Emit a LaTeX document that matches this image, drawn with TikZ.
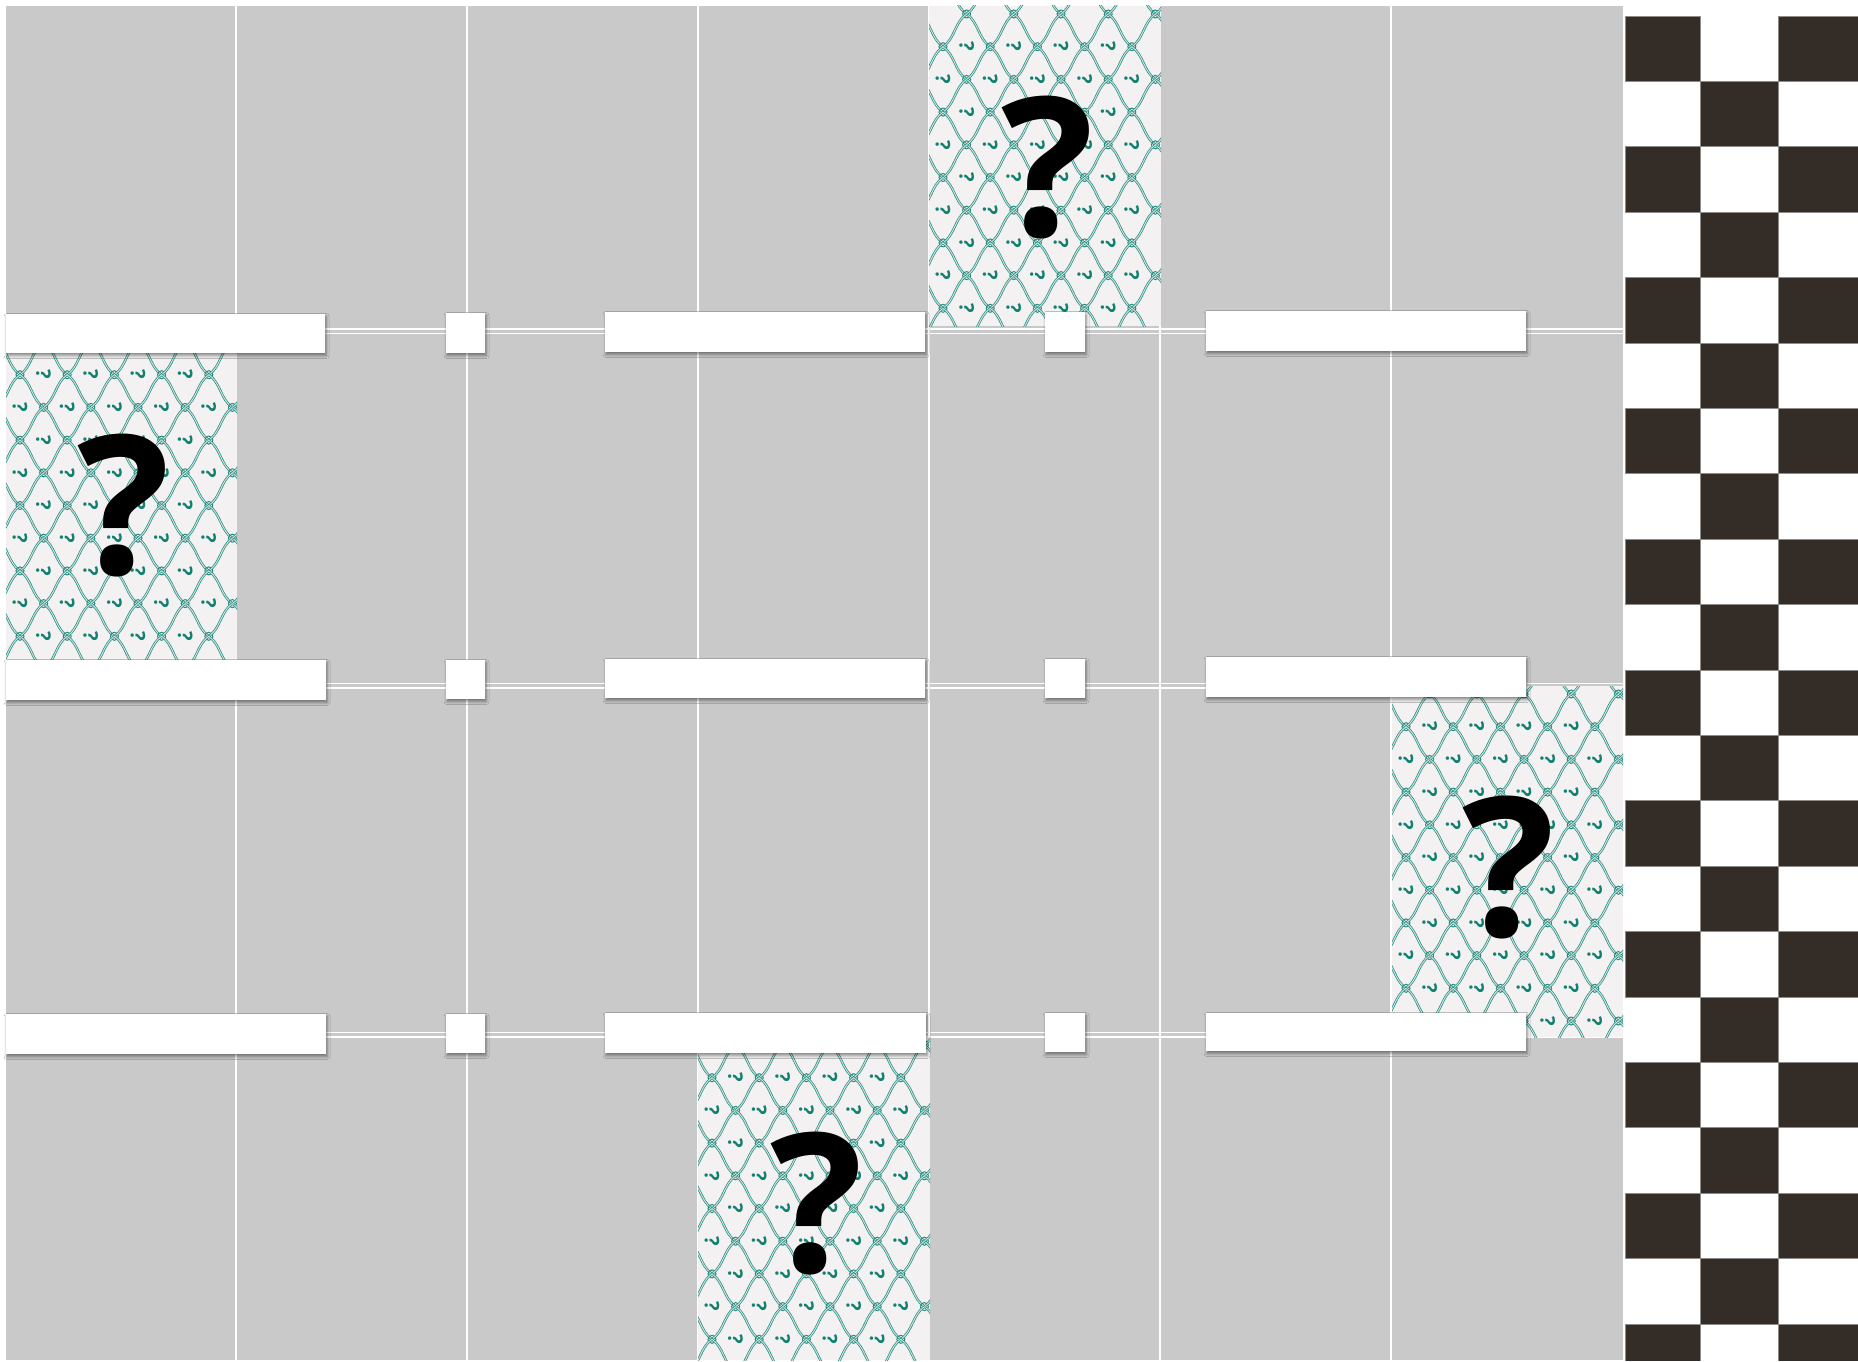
\documentclass[tikz,border=0pt]{standalone}
\usepackage{fontspec}
\newfontfamily\qfont{Open Sans}
\usetikzlibrary{shadows.blur}

\definecolor{cellgray}{RGB}{201,201,201}
\definecolor{checkdark}{RGB}{52,44,38}
\definecolor{trellis}{RGB}{40,140,126}
\definecolor{qteal}{RGB}{18,128,110}
\definecolor{tilebg}{RGB}{243,241,241}

% mystery tile: name, corners, position of the big question mark
\newcommand\mysterytile[7]{%
  \begin{scope}
    \clip (#2,#3) rectangle (#4,#5);
    \fill[tilebg] (#2,#3) rectangle (#4,#5);
    \foreach \i in {-1,...,5} \foreach \j in {-1,...,5} {
      \foreach \dx/\dy [count=\s] in {0/0,23.6/32.7} {
        \pgfmathsetmacro\cx{#2+14+47.2*\i+\dx}
        \pgfmathsetmacro\cy{#3+8+65.4*\j+\dy}
        \draw[trel] (\cx-23.6,\cy) .. controls (\cx-11.7,\cy-7.9) and (\cx-11.9,\cy-24.6) .. (\cx,\cy-32.7)
                    .. controls (\cx+11.9,\cy-24.6) and (\cx+11.7,\cy-7.9) .. (\cx+23.6,\cy);
        \draw[junc] (\cx+23.6,\cy) circle[radius=4];
        \pgfmathtruncatemacro\inside{and(and(\cx>#2+9,\cx<#4-9),and(\cy>#3+9,\cy<#5-9))}
        \ifnum\inside=1
          \node[smallq] (#1-\i-\j-\s) at (\cx,\cy) {?};
        \fi
      }
    }
  \end{scope}
  \node[bigq] (#1) at (#6,#7) {?};
}

\begin{document}
\begin{tikzpicture}[
  x=1pt, y=-1pt,
  gridline/.style={draw=white, line width=1.6pt},
  bar/.style={fill=white, blur shadow={shadow xshift=1pt, shadow yshift=-2.5pt,
              shadow blur radius=3pt, shadow opacity=45}},
  trel/.style={draw=trellis, line width=0.7pt, double=trellis!25, double distance=1pt},
  junc/.style={draw=trellis, line width=1pt},
  smallq/.style={font=\qfont\bfseries\fontsize{20}{20}\selectfont, text=qteal,
                 inner sep=0pt, rotate=-90},
  bigq/.style={font=\qfont\bfseries\fontsize{194}{200}\selectfont, inner sep=0pt},
  dark/.style={fill=checkdark, draw=checkdark!55, line width=0.8pt}
]
\useasboundingbox (0,0) rectangle (1858,1362);
\fill[white] (0,0) rectangle (1858,1362);

\fill[cellgray] (6,6) rectangle (1623,1360);
\foreach \x in {236,467,698,929,1160,1391}
  \draw[gridline] (\x,6) -- (\x,1360);
\foreach \y in {331.3,685.5,1034.5} {
  \draw[gridline] (6,\y-2.2) -- (1623,\y-2.2);
  \draw[gridline] (6,\y+2.2) -- (1623,\y+2.2);
}

\mysterytile{tileA}{929}{6}{1161}{326}{1048}{168}
\mysterytile{tileB}{6}{334}{237}{683}{124}{506}
\mysterytile{tileC}{1392}{686}{1623}{1037}{1509}{868}
\mysterytile{tileD}{698}{1037}{930}{1360}{817}{1204}

\path[bar] (6,314)    rectangle (325,353);
\path[bar] (446,313)  rectangle (485,353);
\path[bar] (605,312)  rectangle (925,352);
\path[bar] (1045,312) rectangle (1085,352);
\path[bar] (1206,311) rectangle (1526,351);

\path[bar] (6,660)    rectangle (326,700);
\path[bar] (446,660)  rectangle (485,699);
\path[bar] (605,659)  rectangle (925,698);
\path[bar] (1045,659) rectangle (1085,698);
\path[bar] (1206,657) rectangle (1526,697);

\path[bar] (6,1014)    rectangle (326,1054);
\path[bar] (446,1014)  rectangle (485,1053);
\path[bar] (605,1013)  rectangle (926,1053);
\path[bar] (1045,1013) rectangle (1085,1052);
\path[bar] (1206,1013) rectangle (1526,1051);

\begin{scope}
  \clip (1624,0) rectangle (1858,1360);
  \foreach \k in {0,2,...,20} {
    \fill[dark] (1625,{16+65.4*\k}) rectangle (1700,{16+65.4*(\k+1)});
    \fill[dark] (1778,{16+65.4*\k}) rectangle (1860,{16+65.4*(\k+1)});
  }
  \foreach \k in {1,3,...,19}
    \fill[dark] (1700,{16+65.4*\k}) rectangle (1778,{16+65.4*(\k+1)});
\end{scope}
\end{tikzpicture}
\end{document}
